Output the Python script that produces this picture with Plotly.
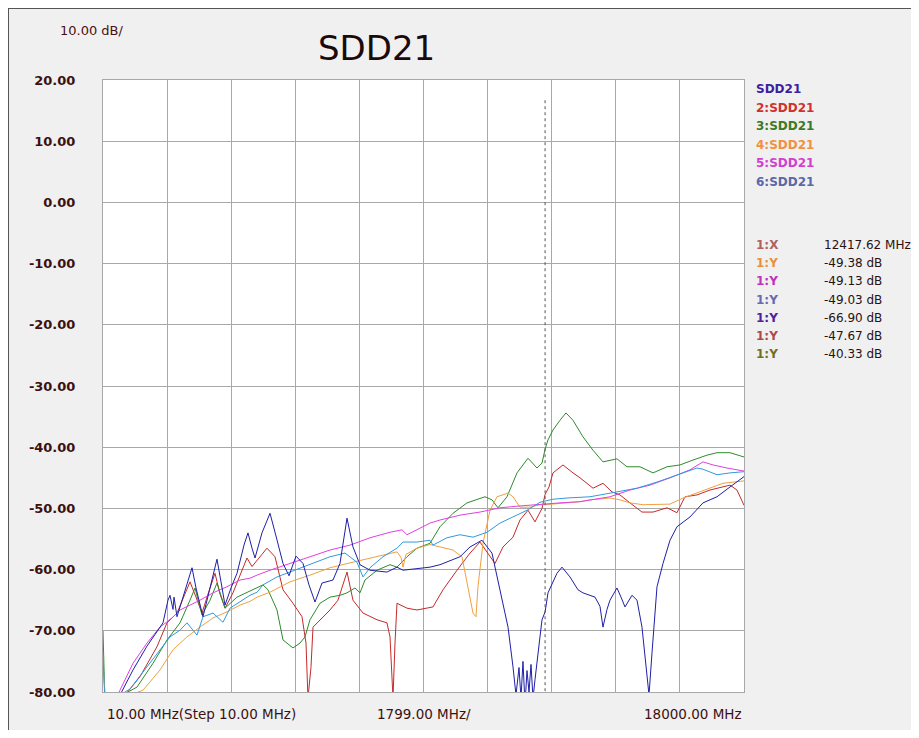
import plotly.graph_objects as go

# ---- data (MHz, dB) ----
f_sdd21 = [10, 347, 487, 852, 1245, 1525, 1694, 1834, 1890, 1975, 2003, 2087, 2311, 2508, 2620, 2816,
           3013, 3209, 3322, 3434, 3602, 3771, 3967, 4079, 4192, 4276, 4472, 4697, 4865, 5062, 5230,
           5427, 5623, 5791, 5960, 6156, 6465, 6661, 6858, 7026, 7223, 7503, 7980, 8261, 8430, 8822,
           9188, 9468, 10029, 10310, 10646, 10927, 11152, 11377, 11517, 11601, 11685, 11741, 11797,
           11854, 11910, 11966, 12022, 12078, 12134, 12190, 12274, 12331, 12418, 12499, 12751, 12892,
           13116, 13341, 13481, 13818, 13958, 14042, 14155, 14239, 14435, 14548, 14660, 14856, 14997,
           15137, 15249, 15334, 15418, 15558, 15727, 15923, 16119, 16288, 16484, 16849, 17242, 17607,
           18000]
db_sdd21 = [-84, -82, -80.5, -76.4, -72.5, -70, -68.7, -65, -64.2, -66.5, -64.5, -67.7, -63.5, -59.7,
            -63, -67.7, -63, -58.3, -62, -65.8, -63, -60.6, -56, -54, -56.5, -58.1, -54, -50.8, -54.5,
            -59, -61, -57.8, -59, -62.5, -65.3, -62.2, -61.7, -59, -51.6, -56.3, -59.2, -60.1, -60.4,
            -59.6, -60.1, -59.8, -59.6, -59.2, -57.9, -56.3, -55.2, -57.3, -63.3, -69.4, -75.9, -80.5,
            -76, -81, -75, -82, -76.5, -80, -75.5, -81, -78, -74.8, -71, -68.2, -66.9, -63.8, -60.6,
            -59.6, -61.2, -63.3, -63.8, -64.5, -66, -69.4, -66.5, -65, -63, -64.5, -66.1, -64.2, -65,
            -69.4, -75.3, -80.5, -73.6, -62.8, -59, -55.2, -53, -52.2, -51.4, -49.1, -48.1, -46.5,
            -44.8]

f_sdd21_2 = [10, 627, 1048, 1525, 1806, 2087, 2283, 2452, 2620, 2788, 2957, 3153, 3294, 3434, 3658,
             3855, 4051, 4192, 4332, 4472, 4613, 4837, 5062, 5342, 5595, 5707, 5763, 5847, 5904, 6100,
             6381, 6605, 6746, 6858, 7026, 7307, 7700, 7980, 8065, 8149, 8205, 8261, 8542, 8822, 9271,
             9552, 9945, 10310, 10590, 10871, 11011, 11236, 11517, 11713, 11938, 12134, 12331, 12418,
             12527, 12639, 12920, 13200, 13397, 13762, 14042, 14295, 14519, 14800, 15137, 15446, 15839,
             16119, 16344, 16681, 17045, 17607, 17803, 18000]
db_sdd21_2 = [-85, -80.5, -77.5, -72.6, -68.7, -67.1, -64.5, -62, -64.5, -67.1, -64, -60.6, -64, -66.3,
              -63.8, -61, -58.1, -59.5, -58.4, -57.5, -56.5, -57.9, -63.3, -65.5, -67.7, -72, -81, -76,
              -69.4, -68.2, -66.6, -65, -62.5, -60.4, -65, -67.1, -68.2, -68.7, -71, -81, -72, -65.5,
              -66.3, -66.6, -66.1, -63.3, -60.1, -57.3, -55.5, -57.9, -59, -56.3, -54.7, -51.9, -50.3,
              -52.2, -50, -47.7, -46.5, -44.2, -42.9, -44.2, -45, -46.7, -45.9, -47.3, -47.8, -49.1,
              -50.6, -50.6, -49.9, -50.7, -48.1, -47.8, -47, -46.2, -47, -49.5]

f_sdd21_3 = [10, 66, 964, 1413, 1806, 2171, 2452, 2592, 2788, 3013, 3209, 3434, 3771, 4051, 4360, 4500,
             4641, 4893, 5062, 5342, 5539, 5679, 5819, 6100, 6381, 6661, 6858, 7082, 7223, 7363, 7700,
             8065, 8261, 8542, 8822, 9188, 9468, 9833, 10226, 10506, 10731, 10927, 11096, 11348, 11629,
             11938, 12190, 12331, 12418, 12499, 12639, 12835, 13004, 13200, 13397, 13481, 13762, 14042,
             14435, 14716, 15081, 15446, 15839, 16203, 16568, 16961, 17242, 17607, 18000]
db_sdd21_3 = [-70, -82, -79.2, -75.3, -71.5, -68.7, -65, -63, -67.4, -65, -62.2, -66.3, -64.5, -63.7,
              -62.8, -62.5, -63.3, -66.6, -71.5, -72.8, -72, -71, -68.2, -65.5, -64.5, -64.2, -63.8,
              -63, -63.8, -61.7, -60.1, -59.2, -59.6, -57.9, -56.5, -55.7, -53, -50.8, -49.1, -48.6,
              -48.1, -48.6, -49.9, -48.1, -44.2, -41.8, -43.4, -42.6, -40.3, -38.8, -37.2, -35.6, -34.4,
              -35.6, -37.5, -38.3, -40.5, -42.4, -41.9, -43.2, -43.2, -44.2, -43.2, -42.9, -42.1, -41.3,
              -40.9, -40.9, -41.6]

f_sdd21_4 = [10, 94, 1133, 1610, 1975, 2367, 2732, 3097, 3490, 3855, 4136, 4332, 4697, 5258, 5819, 6381,
             6942, 7503, 8065, 8261, 8373, 8430, 8514, 8822, 9188, 9468, 9833, 10085, 10254, 10394,
             10478, 10534, 10674, 10871, 11068, 11377, 11517, 11713, 11994, 12274, 12418, 12639, 13032,
             13397, 13678, 14239, 14519, 14800, 15165, 15558, 15923, 16288, 16681, 17045, 17410, 18000]
db_sdd21_4 = [-76, -82, -79.7, -76.4, -73.1, -71, -69.4, -67.9, -66.9, -65.8, -65.2, -64.5, -63.7, -62,
              -60.9, -59.7, -58.9, -58.1, -57.3, -57.1, -58, -59.6, -57.5, -56.5, -55.9, -56.3, -56.8,
              -57.9, -62.8, -67.1, -67.7, -62.8, -55.7, -50.3, -48.1, -47.5, -48.1, -49.8, -49.8, -49.4,
              -49.4, -49.3, -49.1, -48.9, -48.6, -48.3, -48.6, -49.1, -49.4, -49.4, -49.3, -48.3, -47.5,
              -46.7, -45.9, -45.5]

f_sdd21_5 = [10, 487, 852, 1245, 1610, 1946, 2171, 2452, 2732, 3097, 3490, 3855, 4136, 4332, 4697, 5258,
             5819, 6381, 6942, 7503, 8065, 8401, 8542, 8822, 9188, 9468, 10029, 10590, 11152, 11713,
             12274, 12835, 13397, 13678, 14239, 14800, 15362, 15923, 16484, 16849, 17130, 17523, 18000]
db_sdd21_5 = [-86, -79.7, -75.3, -72, -69.4, -67.9, -66.6, -65.8, -65, -63.8, -62.8, -61.7, -61.4, -60.9,
              -60.1, -59, -57.9, -56.8, -56, -54.8, -53.9, -53.5, -54.3, -53.5, -52.4, -51.9, -51.1,
              -50.6, -49.9, -49.6, -49.3, -49.1, -48.9, -48.6, -48.1, -47, -46.2, -45, -43.7, -42.4,
              -42.9, -43.4, -43.9]

f_sdd21_6 = [10, 66, 768, 1245, 1610, 1890, 2171, 2367, 2648, 2816, 3097, 3378, 3574, 3939, 4136, 4332,
             4500, 4893, 5258, 5623, 6016, 6381, 6802, 7139, 7307, 7503, 7868, 8261, 8430, 8822, 9188,
             9271, 9664, 10029, 10394, 10787, 11152, 11517, 11910, 12274, 12639, 13032, 13678, 14435,
             14997, 15558, 16119, 16681, 16849, 17242, 17607, 18000]
db_sdd21_6 = [-74, -82, -79.5, -75.9, -73.1, -71, -69.9, -68.7, -70.7, -67.7, -67.1, -68.6, -66.3, -65,
              -64.2, -63.7, -62.5, -61.2, -60.4, -59.6, -58.8, -57.9, -57.3, -58.8, -61.2, -59.7, -57.9,
              -56.5, -55.5, -55.5, -55.2, -56, -54.8, -54.3, -54.7, -53.9, -52.4, -51.4, -50.3, -49,
              -48.5, -48.3, -48.1, -47.3, -46.7, -45.7, -44.5, -43.4, -43.6, -44.5, -44.2, -44]

x_ticks = [10, 1809, 3608, 5407, 7206, 9005, 10804, 12603, 14402, 16201, 18000]
y_ticks = [20, 10, 0, -10, -20, -30, -40, -50, -60, -70, -80]

legend_names = ["SDD21", "2:SDD21", "3:SDD21", "4:SDD21", "5:SDD21", "6:SDD21"]
legend_colors = ["#3a1fa0", "#d03030", "#3a7a2a", "#f09040", "#d040d0", "#5868a8"]

marker_freq = 12417.62
readout_labels = ["1:X", "1:Y", "1:Y", "1:Y", "1:Y", "1:Y", "1:Y"]
readout_values = ["12417.62 MHz", "-49.38 dB", "-49.13 dB", "-49.03 dB", "-66.90 dB", "-47.67 dB", "-40.33 dB"]
readout_colors = ["#b06060", "#e89040", "#c030c0", "#6a68b0", "#5020a0", "#b04848", "#707020"]

# ---- figure ----
# the page body has an 8px margin, so the figure sits at (8, 8) in the window
OFF = 8
W, H = 919 - 2 * OFF, 738 - 2 * OFF
L, R, T, B = 103, 744, 80, 692   # plot area in window pixels


def px(x):
    return (x - L) / (R - L)


def py(y):
    return (B - y) / (B - T)


traces = [
    (f_sdd21_2, db_sdd21_2, "#c42a2a"),
    (f_sdd21_3, db_sdd21_3, "#2e8b2e"),
    (f_sdd21_4, db_sdd21_4, "#f0a040"),
    (f_sdd21_5, db_sdd21_5, "#e040e0"),
    (f_sdd21_6, db_sdd21_6, "#3399dd"),
    (f_sdd21, db_sdd21, "#1f1fa8"),
]

fig = go.Figure()
for xs, ys, c in traces:
    fig.add_trace(go.Scatter(x=xs, y=ys, mode="lines", line=dict(color=c, width=1),
                             showlegend=False, hoverinfo="skip"))

fig.update_layout(
    width=W, height=H,
    margin=dict(l=L - OFF, r=W - (R - OFF), t=T - OFF, b=H - (B - OFF), autoexpand=False),
    paper_bgcolor="#f0f0f0",
    plot_bgcolor="white",
    font=dict(family="DejaVu Sans", color="#3c1010"),
    xaxis=dict(range=[10, 18000], tickvals=x_ticks, showticklabels=False, ticks="",
               showgrid=True, gridcolor="#a8a8a8", gridwidth=1, zeroline=False,
               showline=True, linecolor="#a8a8a8", mirror=True),
    yaxis=dict(range=[-80, 20], tickvals=y_ticks, ticktext=["%.2f" % v for v in y_ticks],
               tickfont=dict(family="DejaVu Sans", size=13, color="#3c1010", weight="bold"),
               ticks="", ticklabelstandoff=24,
               showgrid=True, gridcolor="#a8a8a8", gridwidth=1, zeroline=False,
               showline=True, linecolor="#a8a8a8", mirror=True),
)

# marker line
fig.add_shape(type="line", xref="x", yref="y", x0=marker_freq, x1=marker_freq, y0=16.7, y1=-80,
              line=dict(color="#555555", width=1, dash="dot"))

# outer frame (left / top)
fig.add_shape(type="line", xref="paper", yref="paper", x0=px(OFF + 0.5), x1=px(OFF + 0.5),
              y0=py(OFF), y1=py(738), line=dict(color="#555555", width=1))
fig.add_shape(type="line", xref="paper", yref="paper", x0=px(OFF), x1=px(919),
              y0=py(OFF + 0.5), y1=py(OFF + 0.5), line=dict(color="#555555", width=1))

ann = []
ann.append(dict(text="SDD21", x=px(376), y=py(48), font=dict(size=34, color="#1a0a0a")))
ann.append(dict(text="10.00 dB/", x=px(58), y=py(30), xanchor="left", font=dict(size=13, color="#4a1010")))
ann.append(dict(text="10.00 MHz(Step 10.00 MHz)", x=px(105), y=py(714), xanchor="left",
                font=dict(size=13.5, color="#3c1010")))
ann.append(dict(text="1799.00 MHz/", x=px(424), y=py(714), font=dict(size=13.5, color="#3c1010")))
ann.append(dict(text="18000.00 MHz", x=px(744), y=py(714), xanchor="right",
                font=dict(size=13.5, color="#3c1010")))

for i, (name, c) in enumerate(zip(legend_names, legend_colors)):
    ann.append(dict(text=name, x=px(754), y=py(89 + 18.6 * i), xanchor="left",
                    font=dict(size=12, color=c, weight="bold")))

for i, (lab, val, c) in enumerate(zip(readout_labels, readout_values, readout_colors)):
    yy = py(245 + 18.2 * i)
    ann.append(dict(text=lab, x=px(754), y=yy, xanchor="left", font=dict(size=12, color=c, weight="bold")))
    ann.append(dict(text=val, x=px(822), y=yy, xanchor="left", font=dict(size=12, color="#2a1010")))

for a in ann:
    a.update(xref="paper", yref="paper", showarrow=False, yanchor="middle")
    a.setdefault("xanchor", "center")
fig.update_layout(annotations=ann)

fig.write_html("out.html")
